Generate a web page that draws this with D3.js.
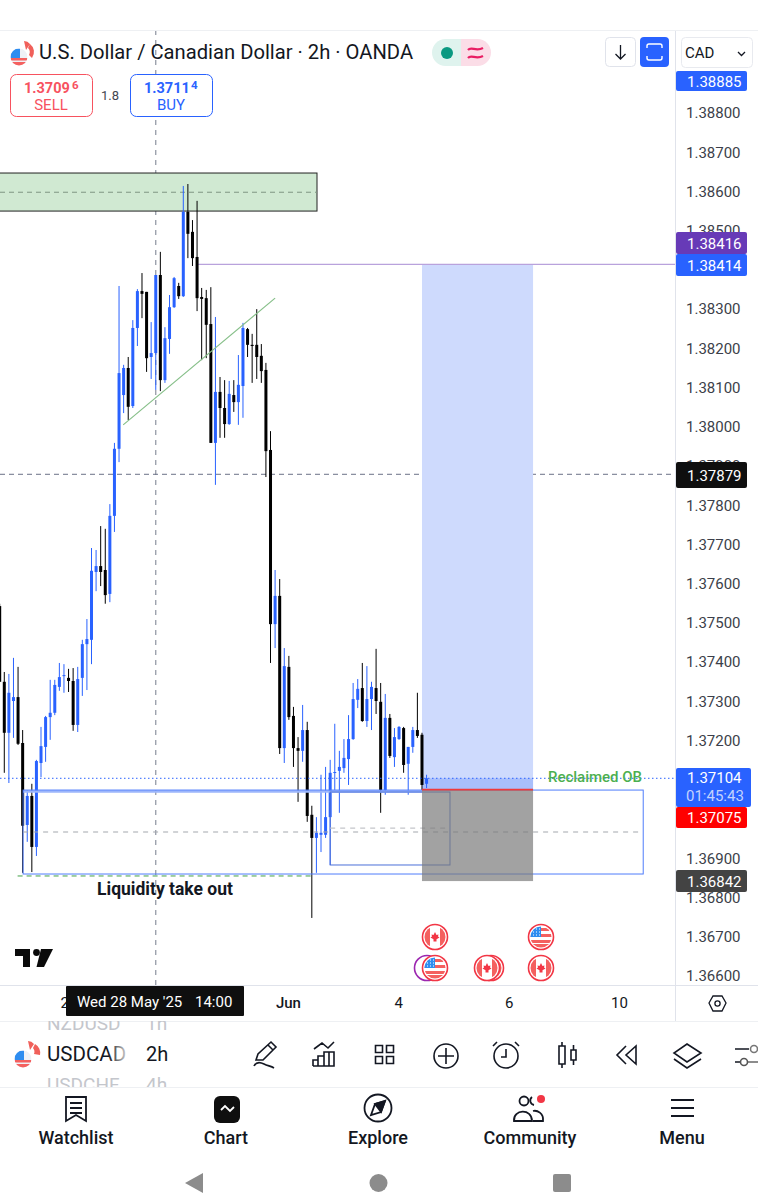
<!DOCTYPE html>
<html lang="en">

<head>
  <meta charset="UTF-8">
  <title>USDCAD 2h</title>
  <script src="https://cdn.jsdelivr.net/npm/d3@7/dist/d3.min.js"></script>
  <style>
    html, body { margin: 0; background: #fff; }
    svg { display: block; font-family: Roboto, sans-serif; }
  </style>
</head>

<body>
  <svg></svg>

  <script>
    // 2h bars, left to right
    const barOpen = [1.37543,1.37350,1.37220,1.37301,1.37311,1.37194,1.36985,1.37059,1.36929,1.37143,1.37184,1.37260,1.37271,1.37337,1.37365,1.37360,1.37352,1.37240,1.37360,1.37446,1.37457,1.37630,1.37645,1.37635,1.37574,1.37773,1.37944,1.38081,1.38150,1.38053,1.38252,1.38346,1.38344,1.38178,1.38188,1.38387,1.38119,1.38224,1.38305,1.38359,1.38333,1.38548,1.38497,1.38433,1.38331,1.38328,1.38262,1.37959,1.38089,1.38048,1.38007,1.38081,1.38063,1.38104,1.38249,1.38209,1.38209,1.38181,1.38145,1.37941,1.37497,1.37569,1.37181,1.37388,1.37263,1.37181,1.37174,1.37227,1.37011,1.36952,1.36960,1.36960,1.37005,1.37118,1.37123,1.37130,1.37153,1.37204,1.37304,1.37334,1.37250,1.37306,1.37334,1.37299,1.37074,1.37258,1.37158,1.37204,1.37232,1.37141,1.37184,1.37227,1.37215,1.37090];
    const barHigh = [1.37549,1.37375,1.37370,1.37411,1.37388,1.37227,1.37074,1.37090,1.37151,1.37235,1.37263,1.37355,1.37355,1.37398,1.37395,1.37383,1.37385,1.37388,1.37457,1.37510,1.37691,1.37686,1.37747,1.37740,1.37803,1.37959,1.38359,1.38158,1.38178,1.38272,1.38351,1.38392,1.38344,1.38267,1.38387,1.38446,1.38254,1.38336,1.38382,1.38367,1.38614,1.38619,1.38527,1.38576,1.38354,1.38349,1.38356,1.38280,1.38127,1.38119,1.38117,1.38119,1.38183,1.38265,1.38252,1.38237,1.38300,1.38211,1.38163,1.37989,1.37635,1.37612,1.37436,1.37416,1.37286,1.37209,1.37291,1.37248,1.37034,1.37005,1.37113,1.37133,1.37151,1.37243,1.37174,1.37204,1.37265,1.37347,1.37357,1.37398,1.37390,1.37350,1.37434,1.37347,1.37319,1.37268,1.37232,1.37237,1.37235,1.37184,1.37235,1.37322,1.37220,1.37113];
    const barLow = [1.37350,1.37118,1.37092,1.37207,1.37189,1.36863,1.36942,1.36865,1.36906,1.37107,1.37146,1.37202,1.37265,1.37327,1.37322,1.37324,1.37225,1.37222,1.37314,1.37329,1.37395,1.37581,1.37594,1.37549,1.37553,1.37732,1.37910,1.38035,1.38017,1.38048,1.38206,1.38277,1.38140,1.38122,1.38094,1.38091,1.38112,1.38186,1.38303,1.38326,1.38331,1.38430,1.38410,1.38295,1.38170,1.38175,1.37959,1.37852,1.37972,1.37972,1.38005,1.38038,1.38005,1.38023,1.38178,1.38112,1.38122,1.38112,1.37872,1.37398,1.37436,1.37166,1.37143,1.37253,1.37133,1.37044,1.37146,1.36993,1.36748,1.36863,1.36916,1.36952,1.36883,1.37074,1.37016,1.37118,1.37087,1.37202,1.37283,1.37248,1.37235,1.37227,1.37268,1.37016,1.37062,1.37156,1.37133,1.37202,1.37118,1.37062,1.37169,1.37207,1.37074,1.37079];
    const barClose = [1.37350,1.37220,1.37322,1.37311,1.37192,1.36983,1.37059,1.36929,1.37148,1.37186,1.37260,1.37271,1.37342,1.37362,1.37367,1.37352,1.37240,1.37357,1.37446,1.37459,1.37633,1.37645,1.37630,1.37571,1.37773,1.37944,1.38137,1.38150,1.38051,1.38252,1.38346,1.38339,1.38175,1.38188,1.38387,1.38119,1.38226,1.38305,1.38379,1.38333,1.38548,1.38492,1.38430,1.38328,1.38326,1.38260,1.37959,1.38089,1.38048,1.38007,1.38084,1.38063,1.38107,1.38252,1.38209,1.38206,1.38178,1.38142,1.37938,1.37497,1.37569,1.37181,1.37390,1.37260,1.37181,1.37174,1.37227,1.37008,1.36952,1.36965,1.36965,1.37005,1.37118,1.37120,1.37133,1.37156,1.37204,1.37306,1.37332,1.37250,1.37306,1.37337,1.37301,1.37074,1.37258,1.37161,1.37209,1.37235,1.37138,1.37184,1.37227,1.37212,1.37087,1.37104];

    const priceTicks = [1.388,1.387,1.386,1.385,1.383,1.382,1.381,1.38,1.379,1.378,1.377,1.376,1.375,1.374,1.373,1.372,1.369,1.368,1.367,1.366];
    const timeBars = [15,62.8,86.8,110.9,134.9];
    const timeLabels = ["27","Jun","4","6","10"];

    // drawings on the chart
    const zonePrices = [1.38647,1.38598,1.3855];
    const bigBoxPrices = [1.37074,1.36967,1.3686];
    const bigBoxBars = [5.1,140.2];
    const smallBoxPrices = [1.37069,1.36977,1.36883];
    const smallBoxBars = [72,98.1];
    const positionPrices = [1.38414,1.37075,1.36842];
    const positionBars = [92,116.2];
    const trendBars = [26.9,60];
    const trendPrices = [1.38005,1.38328];
    const lastPrice = 1.37104;
    const crosshairBar = 34;
    const crosshairPrice = 1.37879;
    const liquidityPrice = 1.36855;

    const W = 758, H = 1200, paneRight = 675, paneTop = 30, paneBottom = 985;
    const ink = "#131722", blue = "#2962ff", red = "#f23645";

    const svg = d3.select("svg").attr("width", W).attr("height", H);
    const defs = svg.append("defs");
    defs.append("clipPath").attr("id", "pane").append("rect")
      .attr("x", 0).attr("y", paneTop).attr("width", paneRight).attr("height", paneBottom - paneTop);
    defs.append("clipPath").attr("id", "list").append("rect")
      .attr("x", 0).attr("y", 1021).attr("width", 240).attr("height", 66);
    const fade = defs.append("linearGradient").attr("id", "fade");
    fade.append("stop").attr("offset", 0).attr("stop-color", "#fff").attr("stop-opacity", 0);
    fade.append("stop").attr("offset", 1).attr("stop-color", "#fff").attr("stop-opacity", 0.85);

    const y = d3.scaleLinear().domain([1.388, 1.366]).range([113, 976]);
    const x = d3.scaleLinear().domain([0, 100]).range([-0.3, 458.7]);

    const pane = svg.append("g").attr("clip-path", "url(#pane)");

    function line(g, x1, y1, x2, y2, color, w, dash) {
      return g.append("line").attr("x1", x1).attr("y1", y1).attr("x2", x2).attr("y2", y2)
        .attr("stroke", color).attr("stroke-width", w).attr("stroke-dasharray", dash || null);
    }

    // crosshair goes under everything
    line(pane, x(crosshairBar), paneTop, x(crosshairBar), paneBottom, "#8d93a0", 1.2, "5 5");
    line(pane, 0, y(crosshairPrice), paneRight, y(crosshairPrice), "#6a7186", 1, "5 4");

    // green zone
    pane.append("rect").attr("x", -2).attr("y", y(zonePrices[0]))
      .attr("width", 319).attr("height", y(zonePrices[2]) - y(zonePrices[0]))
      .attr("fill", "#d0e9d2").attr("stroke", "#222").attr("stroke-width", 1);
    line(pane, 0, y(zonePrices[1]), 317, y(zonePrices[1]), "#7f9683", 1, "5 4");

    // target of the position
    const posX = x(positionBars[0]), posW = x(positionBars[1]) - posX;
    pane.append("rect").attr("x", posX).attr("y", y(positionPrices[0])).attr("width", posW)
      .attr("height", y(positionPrices[1]) - y(positionPrices[0])).attr("fill", "#cedafd");
    pane.append("rect").attr("x", posX).attr("y", y(lastPrice)).attr("width", posW)
      .attr("height", y(positionPrices[1]) - y(lastPrice)).attr("fill", "#a9bffb");

    // purple target line
    line(pane, x(43.2), y(positionPrices[0]), paneRight, y(positionPrices[0]), "#b9a2dc", 1.3);

    // candles
    const bars = barOpen.map((o, i) => ({ i, o, h: barHigh[i], l: barLow[i], c: barClose[i] }));
    const barColor = d => d.c >= d.o ? blue : "#000";
    const candle = pane.append("g").selectAll("g").data(bars).enter().append("g");
    candle.append("line")
      .attr("x1", d => x(d.i)).attr("x2", d => x(d.i))
      .attr("y1", d => y(d.h)).attr("y2", d => y(d.l))
      .attr("stroke", barColor).attr("stroke-width", 1);
    candle.append("rect")
      .attr("x", d => x(d.i) - 1.5).attr("width", 3)
      .attr("y", d => y(Math.max(d.o, d.c)))
      .attr("height", d => Math.max(1, Math.abs(y(d.o) - y(d.c))))
      .attr("fill", barColor);

    // trend line
    line(pane, x(trendBars[0]), y(trendPrices[0]), x(trendBars[1]), y(trendPrices[1]), "#86bf89", 1.2);

    // order block boxes
    line(pane, x(bigBoxBars[0]), y(smallBoxPrices[0]) - 0.5, posX, y(smallBoxPrices[0]) - 0.5, "#9cb6fb", 2.6);
    pane.append("rect").attr("x", x(bigBoxBars[0])).attr("y", y(bigBoxPrices[0]))
      .attr("width", x(bigBoxBars[1]) - x(bigBoxBars[0])).attr("height", y(bigBoxPrices[2]) - y(bigBoxPrices[0]))
      .attr("fill", "none").attr("stroke", "#4f7cfb").attr("stroke-width", 1);
    line(pane, x(bigBoxBars[0]), y(bigBoxPrices[1]), x(bigBoxBars[1]), y(bigBoxPrices[1]), "#a4a7ad", 1.1, "5 5");
    pane.append("rect").attr("x", x(smallBoxBars[0])).attr("y", y(smallBoxPrices[0]))
      .attr("width", x(smallBoxBars[1]) - x(smallBoxBars[0])).attr("height", y(smallBoxPrices[2]) - y(smallBoxPrices[0]))
      .attr("fill", "none").attr("stroke", "#4a6fd8").attr("stroke-width", 1);
    line(pane, x(smallBoxBars[0]), y(smallBoxPrices[1]), x(smallBoxBars[1]), y(smallBoxPrices[1]), "#c3c5ca", 1.1, "5 5");

    // stop of the position, see-through so the boxes show under it
    pane.append("rect").attr("x", posX).attr("y", y(positionPrices[1])).attr("width", posW)
      .attr("height", y(positionPrices[2]) - y(positionPrices[1])).attr("fill", "#7a7a7a").attr("fill-opacity", 0.7);
    line(pane, posX, y(positionPrices[1]), posX + posW, y(positionPrices[1]), "#f03a3a", 1.6);

    // liquidity line and notes
    line(pane, x(3.9), y(liquidityPrice), x(68), y(liquidityPrice), "#43a047", 1, "5 4");
    pane.append("text").attr("x", 165).attr("y", 895).attr("text-anchor", "middle")
      .attr("font-size", 17.5).attr("font-weight", 700).attr("fill", ink).text("Liquidity take out");
    line(pane, 0, y(lastPrice), paneRight, y(lastPrice), blue, 1, "1.5 2.5");
    pane.append("text").attr("x", 595).attr("y", 782).attr("text-anchor", "middle")
      .attr("font-size", 15).attr("font-weight", 500).attr("fill", "#4caf50").text("Reclaimed OB");

    // event flags
    const flags = [
      { x: 435, y: 937, c: "ca" }, { x: 541, y: 937, c: "us" },
      { x: 427, y: 968, c: "ring" }, { x: 435, y: 968, c: "us" },
      { x: 491, y: 968, c: "ca" }, { x: 487, y: 968, c: "ca" }, { x: 541, y: 968, c: "ca" }
    ];
    flags.forEach((f, i) => {
      const g = pane.append("g").attr("transform", `translate(${f.x},${f.y})`);
      const id = "flag" + i;
      defs.append("clipPath").attr("id", id).append("circle").attr("r", 10.5);
      if (f.c === "ring") {
        g.append("circle").attr("r", 12.5).attr("fill", "#fff").attr("stroke", "#9c27b0").attr("stroke-width", 1.6);
        return;
      }
      g.append("circle").attr("r", 12.5).attr("fill", "#fff").attr("stroke", red).attr("stroke-width", 1.6);
      const inner = g.append("g").attr("clip-path", `url(#${id})`);
      if (f.c === "ca") {
        inner.append("rect").attr("x", -11).attr("y", -11).attr("width", 6).attr("height", 22).attr("fill", "#f4605f");
        inner.append("rect").attr("x", 5).attr("y", -11).attr("width", 6).attr("height", 22).attr("fill", "#f4605f");
        inner.append("path").attr("d", "M0-5 1.5-2 3.5-2.6 3-0.5 4.5 0.5 1.5 2.2 1.5 4.5-1.5 4.5-1.5 2.2-4.5 0.5-3-0.5-3.5-2.6-1.5-2Z").attr("fill", "#f23645");
      } else {
        inner.append("rect").attr("x", -11).attr("y", -3).attr("width", 22).attr("height", 3).attr("fill", "#f4605f");
        inner.append("rect").attr("x", -11).attr("y", 3).attr("width", 22).attr("height", 3).attr("fill", "#f4605f");
        inner.append("rect").attr("x", -11).attr("y", 7).attr("width", 22).attr("height", 4).attr("fill", "#f4605f");
        inner.append("rect").attr("x", -0).attr("y", -9).attr("width", 11).attr("height", 3).attr("fill", "#f4605f");
        inner.append("rect").attr("x", -11).attr("y", -11).attr("width", 11).attr("height", 11).attr("fill", "#2e8df0");
        inner.append("path").attr("d", "M-8-8h1M-5-8h1M-2-8h1M-8-5h1M-5-5h1M-2-5h1M-8-2h1M-5-2h1M-2-2h1")
          .attr("stroke", "#fff").attr("stroke-width", 1);
      }
    });

    // TradingView mark
    pane.append("path").attr("d", "M15 949H30V967H23V956H15ZM41 949H53L44 967H36.500Z").attr("fill", "#0a0a0a");
    pane.append("circle").attr("cx", 36.500).attr("cy", 952.500).attr("r", 3.4).attr("fill", "#0a0a0a");

    // price axis
    line(svg, paneRight + 0.5, paneTop, paneRight + 0.5, 1021, "#e0e3eb", 1);
    const axisY = svg.append("g").attr("transform", `translate(${paneRight},0)`)
      .call(d3.axisRight(y).tickValues(priceTicks).tickFormat(d3.format(".5f")).tickSize(0).tickPadding(11));
    axisY.select(".domain").remove();
    axisY.selectAll("text").attr("font-family", "Roboto").attr("font-size", 15).attr("fill", "#3c3f4a");

    // coloured price tags
    const tagText = ["1.38885", "1.38416", "1.38414", "1.37879", "1.37075", "1.36842"];
    const tagTop = [71, 232, 254, 462, 807, 870];
    const tagHeight = [20, 22, 22, 26, 21, 22];
    const tagFill = [blue, "#673ab7", blue, "#0f0f0f", "#ff0000", "#434343"];
    const tags = svg.append("g").selectAll("g").data(tagText).enter().append("g");
    tags.append("rect").attr("x", 676).attr("width", 71)
      .attr("y", (d, i) => tagTop[i]).attr("height", (d, i) => tagHeight[i]).attr("rx", 2)
      .attr("fill", (d, i) => tagFill[i]);
    tags.append("text").attr("x", 687).attr("y", (d, i) => tagTop[i] + tagHeight[i] / 2 + 5.5)
      .attr("font-size", 15).attr("fill", "#fff").text(d => d);
    svg.append("rect").attr("x", 676).attr("y", 768).attr("width", 75).attr("height", 39).attr("rx", 2).attr("fill", blue);
    svg.append("text").attr("x", 687).attr("y", 783).attr("font-size", 15).attr("fill", "#fff").text(d3.format(".5f")(lastPrice));
    svg.append("text").attr("x", 686).attr("y", 801).attr("font-size", 15).attr("fill", "#c3d2fd").text("01:45:43");

    // time axis
    line(svg, 0, paneBottom + 0.5, W, paneBottom + 0.5, "#e0e3eb", 1);
    line(svg, 0, 1021.5, W, 1021.5, "#eef0f3", 1);
    const axisX = svg.append("g").attr("transform", `translate(0,${paneBottom})`)
      .call(d3.axisBottom(x).tickValues(timeBars).tickFormat((d, i) => timeLabels[i]).tickSize(0).tickPadding(12));
    axisX.select(".domain").remove();
    axisX.selectAll("text").attr("font-family", "Roboto").attr("font-size", 15).attr("fill", ink)
      .attr("font-weight", (d, i) => i === 1 ? 500 : 400);
    svg.append("rect").attr("x", 66).attr("y", 986).attr("width", 178).attr("height", 30).attr("rx", 1).attr("fill", "#0f0f0f");
    svg.append("text").attr("x", 77).attr("y", 1007).attr("font-size", 15).attr("fill", "#fff").text("Wed 28 May '25");
    svg.append("text").attr("x", 195).attr("y", 1007).attr("font-size", 15).attr("fill", "#fff").text("14:00");
    svg.append("path").attr("d", "M709 1003 713 996H722L726 1003 722 1011H713Z").attr("fill", "none").attr("stroke", ink).attr("stroke-width", 1.3);
    svg.append("circle").attr("cx", 717.500).attr("cy", 1003.500).attr("r", 2.6).attr("fill", "none").attr("stroke", ink).attr("stroke-width", 1.3);

    // header
    line(svg, 0, 30.5, W, 30.5, "#eef0f3", 1);
    function flagIcon(g, cx, cy, r) {
      const id = "hdr" + cx;
      defs.append("clipPath").attr("id", id).append("circle").attr("cx", cx).attr("cy", cy).attr("r", r);
      const f = g.append("g").attr("clip-path", `url(#${id})`);
      f.append("rect").attr("x", cx - r).attr("y", cy - r).attr("width", 2 * r).attr("height", 2 * r).attr("fill", "#eef1f6");
      f.append("rect").attr("x", cx - r).attr("y", cy + 1).attr("width", 2 * r).attr("height", 2.5).attr("fill", "#f4605f");
      f.append("rect").attr("x", cx - r).attr("y", cy + 5).attr("width", 2 * r).attr("height", r).attr("fill", "#f4605f");
      f.append("rect").attr("x", cx - r).attr("y", cy - r).attr("width", r + 1).attr("height", r + 1).attr("fill", "#2e8df0");
    }
    svg.append("path").attr("d", "M24 41A8 8 0 0 1 30 44L26 50Z M30 44A10 10 0 0 1 32 58L29 55A6 6 0 0 0 28 48Z").attr("fill", "#f0605a");
    flagIcon(svg, 19, 57, 8.5);
    svg.append("text").attr("x", 39).attr("y", 59).attr("font-size", 20.2).attr("fill", ink)
      .text("U.S. Dollar / Canadian Dollar · 2h · OANDA");

    svg.append("path").attr("d", "M461 39H445.500A13.500 13.500 0 0 0 445.500 66H461Z").attr("fill", "#dff3ee");
    svg.append("path").attr("d", "M461 39H477.500A13.500 13.500 0 0 1 477.500 66H461Z").attr("fill", "#fbdde7");
    svg.append("circle").attr("cx", 447).attr("cy", 53).attr("r", 6).attr("fill", "#0a9981");
    svg.append("path").attr("d", "M468 50C471 46 476 52 483 48M468 58C471 54 476 60 483 56")
      .attr("fill", "none").attr("stroke", "#e91e63").attr("stroke-width", 2.2);

    svg.append("rect").attr("x", 605.5).attr("y", 37.5).attr("width", 30).attr("height", 29).attr("rx", 4)
      .attr("fill", "#fff").attr("stroke", "#e0e3eb");
    svg.append("path").attr("d", "M620.500 45V59M615.500 54 620.500 59 625.500 54").attr("fill", "none").attr("stroke", ink).attr("stroke-width", 1.3);
    svg.append("rect").attr("x", 640).attr("y", 37).attr("width", 29).attr("height", 30).attr("rx", 4).attr("fill", blue);
    svg.append("path").attr("d", "M647 48V46A2 2 0 0 1 649 44H660A2 2 0 0 1 662 46V48M647 56V58A2 2 0 0 0 649 60H660A2 2 0 0 0 662 58V56")
      .attr("fill", "none").attr("stroke", "#fff").attr("stroke-width", 1.4);
    svg.append("rect").attr("x", 681.5).attr("y", 37.5).attr("width", 71).attr("height", 30).attr("rx", 4)
      .attr("fill", "#fff").attr("stroke", "#e8eaef");
    svg.append("text").attr("x", 685).attr("y", 58).attr("font-size", 15).attr("fill", ink).text("CAD");
    svg.append("path").attr("d", "M738 52 741.500 55.500 745 52").attr("fill", "none").attr("stroke", ink).attr("stroke-width", 1.3);

    // sell and buy boxes
    function quote(bx, color, big, small, label, smallX) {
      svg.append("rect").attr("x", bx + 0.5).attr("y", 74.5).attr("width", 82).attr("height", 42).attr("rx", 6)
        .attr("fill", "#fff").attr("stroke", color).attr("stroke-width", 1);
      svg.append("text").attr("x", bx + 14).attr("y", 93).attr("font-size", 14.5).attr("font-weight", 700).attr("fill", color).text(big);
      svg.append("text").attr("x", smallX).attr("y", 89).attr("font-size", 11.5).attr("font-weight", 700).attr("fill", color).text(small);
      svg.append("text").attr("x", bx + 41).attr("y", 110).attr("text-anchor", "middle").attr("font-size", 15).attr("fill", color).text(label);
    }
    quote(10, "#f7525f", "1.3709", "6", "SELL", 72);
    svg.append("text").attr("x", 110).attr("y", 100).attr("text-anchor", "middle").attr("font-size", 13).attr("fill", "#434651").text("1.8");
    quote(130, "#2962ff", "1.3711", "4", "BUY", 191);

    // symbol list
    const list = svg.append("g").attr("clip-path", "url(#list)");
    list.append("text").attr("x", 47).attr("y", 1030).attr("font-size", 19).attr("fill", "#c4c6cc").text("NZDUSD");
    list.append("text").attr("x", 146).attr("y", 1030).attr("font-size", 19).attr("fill", "#c4c6cc").text("1h");
    list.append("text").attr("x", 47).attr("y", 1061).attr("font-size", 20.5).attr("fill", ink).text("USDCAD");
    list.append("text").attr("x", 146).attr("y", 1061).attr("font-size", 20).attr("fill", ink).text("2h");
    list.append("text").attr("x", 47).attr("y", 1091).attr("font-size", 19).attr("fill", "#c4c6cc").text("USDCHF");
    list.append("text").attr("x", 146).attr("y", 1091).attr("font-size", 19).attr("fill", "#c4c6cc").text("4h");
    svg.append("rect").attr("x", 108).attr("y", 1040).attr("width", 20).attr("height", 26).attr("fill", "url(#fade)");
    svg.append("path").attr("d", "M28 1041A8 8 0 0 1 34 1044L30 1050Z M35 1044A10 10 0 0 1 40 1055L34 1054A6 6 0 0 0 33 1048Z").attr("fill", "#f0605a");
    flagIcon(svg, 23, 1059, 8.5);

    // toolbar icons
    const toolbar = svg.append("g").attr("fill", "none").attr("stroke", ink).attr("stroke-width", 1.6);
    const toolPaths = [
      "M256 1060 258 1054 271 1042 276 1047 263 1060ZM268 1045 273 1050M254 1066C256 1062 260 1062 264 1064S271 1066 274 1068",
      "M314 1049 322 1043 328 1048 334 1042M313 1066V1060H318V1066M318 1066V1056H324V1066M324 1066V1052H334V1066ZM329 1052V1066M313 1066H334",
      "M375.500 1045.500H382.500V1052.500H375.500ZM386.500 1045.500H393.500V1052.500H386.500ZM375.500 1056.500H382.500V1063.500H375.500ZM386.500 1056.500H393.500V1063.500H386.500Z",
      "M446 1048V1064M438 1056H454",
      "M506 1049V1057H501M493 1046 497 1042M519 1046 515 1042",
      "M559 1046H565V1064H559ZM562 1042V1046M562 1064V1068M571 1050H576V1060H571ZM573.500 1045V1050M573.500 1060V1065",
      "M636 1046V1064L626 1055ZM626 1046 617 1055 626 1064",
      "M687 1044 701 1053 687 1062 674 1053ZM674 1059 687 1068 701 1059",
      "M735 1049H749M735 1062H741"
    ];
    toolbar.selectAll("path").data(toolPaths).enter().append("path").attr("d", d => d);
    toolbar.append("circle").attr("cx", 446).attr("cy", 1056).attr("r", 12);
    toolbar.append("circle").attr("cx", 506).attr("cy", 1056).attr("r", 12);
    toolbar.append("circle").attr("cx", 754).attr("cy", 1049).attr("r", 3.5).attr("stroke", "#777");
    toolbar.append("circle").attr("cx", 744).attr("cy", 1062).attr("r", 3.5).attr("stroke", "#555");
    line(svg, 748, 1062, 758, 1062, "#666", 1.5);
    line(svg, 0, 1087.5, W, 1087.5, "#eef0f3", 1);

    // bottom navigation
    const navLabels = ["Watchlist", "Chart", "Explore", "Community", "Menu"];
    const navX = [76, 226, 378, 530, 682];
    svg.append("g").selectAll("text").data(navLabels).enter().append("text")
      .attr("x", (d, i) => navX[i]).attr("y", 1144).attr("text-anchor", "middle")
      .attr("font-size", 18).attr("font-weight", 500).attr("fill", ink).text(d => d);
    svg.append("rect").attr("x", 214).attr("y", 1096).attr("width", 26).attr("height", 27).attr("rx", 6).attr("fill", "#0f0f0f");
    const nav = svg.append("g").attr("fill", "none").attr("stroke", ink).attr("stroke-width", 1.8);
    nav.append("path").attr("d", "M66 1097H86V1121L76 1115 66 1121ZM70 1103H82M70 1108H82M70 1113H82");
    nav.append("path").attr("d", "M221 1110 225 1106 230 1111 234 1107").attr("stroke", "#fff");
    nav.append("circle").attr("cx", 378).attr("cy", 1108).attr("r", 13.5);
    nav.append("path").attr("d", "M385 1101 381 1112 371 1115 375 1104Z");
    nav.append("path").attr("d", "M385 1101 375 1104 381 1112Z").attr("fill", ink);
    nav.append("circle").attr("cx", 524).attr("cy", 1101).attr("r", 4.5);
    nav.append("path").attr("d", "M514 1121C513 1109 532 1108 532 1121ZM533 1121H543C544 1113 537 1110 533 1111");
    nav.append("path").attr("d", "M532 1097A4.500 4.500 0 0 0 534 1105");
    svg.append("circle").attr("cx", 541).attr("cy", 1099).attr("r", 4).attr("fill", red);
    nav.append("path").attr("d", "M671 1100H694M671 1108H694M671 1116H694").attr("stroke-width", 2);

    // android buttons
    svg.append("path").attr("d", "M203 1173V1193L185 1183Z").attr("fill", "#8c8c8c");
    svg.append("circle").attr("cx", 378.500).attr("cy", 1183).attr("r", 9).attr("fill", "#8c8c8c");
    svg.append("rect").attr("x", 553).attr("y", 1174).attr("width", 18).attr("height", 18).attr("rx", 2).attr("fill", "#8c8c8c");
  </script>
</body>

</html>
